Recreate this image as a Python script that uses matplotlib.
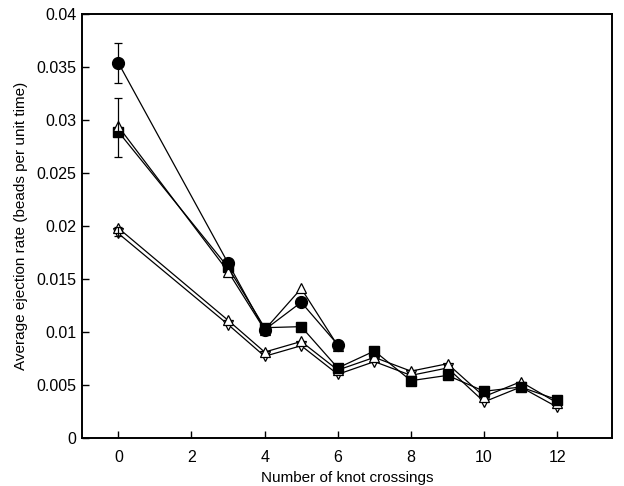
import numpy as np
import matplotlib
matplotlib.use("Agg")
import matplotlib.pyplot as plt

plt.rcParams["font.family"] = ["Liberation Sans", "DejaVu Sans"]

# knot crossings
x_short = [0, 3, 4, 5, 6]
x_long = [0, 3, 4, 5, 6, 7, 8, 9, 10, 11, 12]

circle_y = [0.0354, 0.0165, 0.0102, 0.0128, 0.0088]
tri_up_a = [0.0294, 0.0157, 0.0102, 0.0141, 0.0087]
square_y = [0.0289, 0.0161, 0.0104, 0.0105, 0.0066, 0.0082, 0.0054, 0.0059, 0.0044, 0.0048, 0.0036]
tri_up_b = [0.0198, 0.0111, 0.0081, 0.0091, 0.0064, 0.0076, 0.0063, 0.0070, 0.0039, 0.0053, 0.0033]
tri_dn_y = [0.0193, 0.0107, 0.0077, 0.0087, 0.0060, 0.0072, 0.0059, 0.0066, 0.0034, 0.0048, 0.0029]

# error bars shown at zero crossings
err_y = [0.0354, 0.0293, 0.0195]
err_lo = [0.0335, 0.0265, 0.0191]
err_hi = [0.0373, 0.0321, 0.0199]

yticks = [0, 0.005, 0.01, 0.015, 0.02, 0.025, 0.03, 0.035, 0.04]
ylabels = ["0", "0.005", "0.01", "0.015", "0.02", "0.025", "0.03", "0.035", "0.04"]
xticks = [0, 2, 4, 6, 8, 10, 12]

fig = plt.figure(figsize=(6.24, 4.86), dpi=100)
ax = fig.add_axes([0.131, 0.099, 0.85, 0.872])

lw = 0.9
ms = 7
ax.plot(x_long, tri_dn_y, "-v", color="black", lw=lw, ms=ms, mfc="white", mec="black", mew=0.9)
ax.plot(x_long, tri_up_b, "-^", color="black", lw=lw, ms=ms, mfc="white", mec="black", mew=0.9)
ax.plot(x_long, square_y, "-s", color="black", lw=lw, ms=6.5, mfc="black", mec="black")
ax.plot(x_short, tri_up_a, "-^", color="black", lw=lw, ms=ms, mfc="white", mec="black", mew=0.9)
ax.plot(x_short, circle_y, "-o", color="black", lw=lw, ms=8.5, mfc="black", mec="black")

for yv, lo, hi in zip(err_y, err_lo, err_hi):
    ax.errorbar([0], [yv], yerr=[[yv - lo], [hi - yv]], fmt="none", ecolor="black",
                elinewidth=0.9, capsize=3, capthick=0.9)

ax.set_xlim(-1, 13.5)
ax.set_ylim(0, 0.04)
ax.set_xticks(xticks)
ax.set_yticks(yticks)
ax.set_yticklabels(ylabels)
ax.tick_params(direction="in", length=5, width=1, labelsize=11.5, top=False, right=False)
ax.tick_params(axis="x", pad=9)
ax.tick_params(axis="y", pad=4)
for s in ax.spines.values():
    s.set_linewidth(1.4)

ax.set_xlabel("Number of knot crossings", fontsize=11, labelpad=4)
ax.set_ylabel("Average ejection rate (beads per unit time)", fontsize=11, labelpad=6)

plt.savefig("out.png", dpi=100)
